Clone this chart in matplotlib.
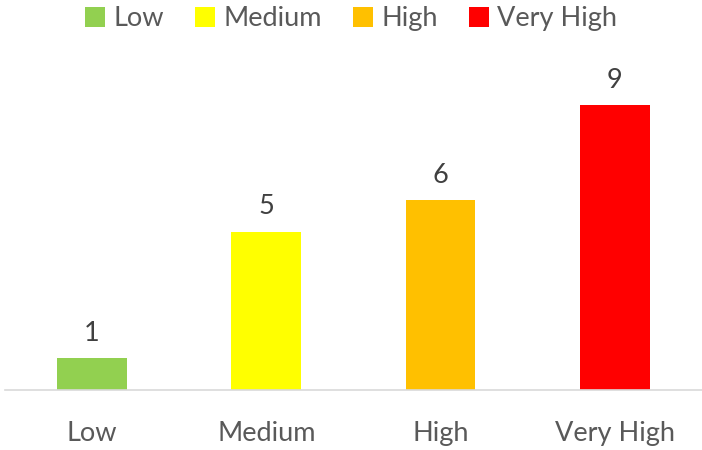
import matplotlib.pyplot as plt
from matplotlib.patches import Patch

categories = ["Low", "Medium", "High", "Very High"]
values = [1, 5, 6, 9]
colors = ["#92D050", "#FFFF00", "#FFC000", "#FF0000"]

plt.rcParams["font.family"] = ["Lato", "DejaVu Sans"]

fig = plt.figure(figsize=(7.02, 4.5), dpi=100)
ax = fig.add_axes([0.007, 0.1333, 0.993, 0.7044])

x = list(range(len(categories)))
bars = ax.bar(x, values, width=0.4, color=colors)
for xi, v in zip(x, values):
    ax.text(xi, v + 0.38, str(v), ha="center", va="bottom",
            fontsize=19.5, color="#404040")

ax.set_xlim(-0.5, len(categories) - 0.5)
ax.set_ylim(0, 10)
ax.set_xticks(x)
ax.set_xticklabels(categories, fontsize=19.5, color="#595959")
ax.tick_params(axis="x", length=0, pad=22)
ax.set_yticks([])
for s in ["top", "right", "left"]:
    ax.spines[s].set_visible(False)
ax.spines["bottom"].set_color("#D9D9D9")
ax.spines["bottom"].set_linewidth(1.2)

handles = [Patch(facecolor=c, label=l) for c, l in zip(colors, categories)]
fig.legend(handles=handles, loc="upper center", bbox_to_anchor=(0.5, 1.04),
           ncol=4, frameon=False, fontsize=19.5, labelcolor="#595959",
           handlelength=0.75, handleheight=0.75, handletextpad=0.3,
           columnspacing=1.15)

fig.savefig("out.png", dpi=100)
